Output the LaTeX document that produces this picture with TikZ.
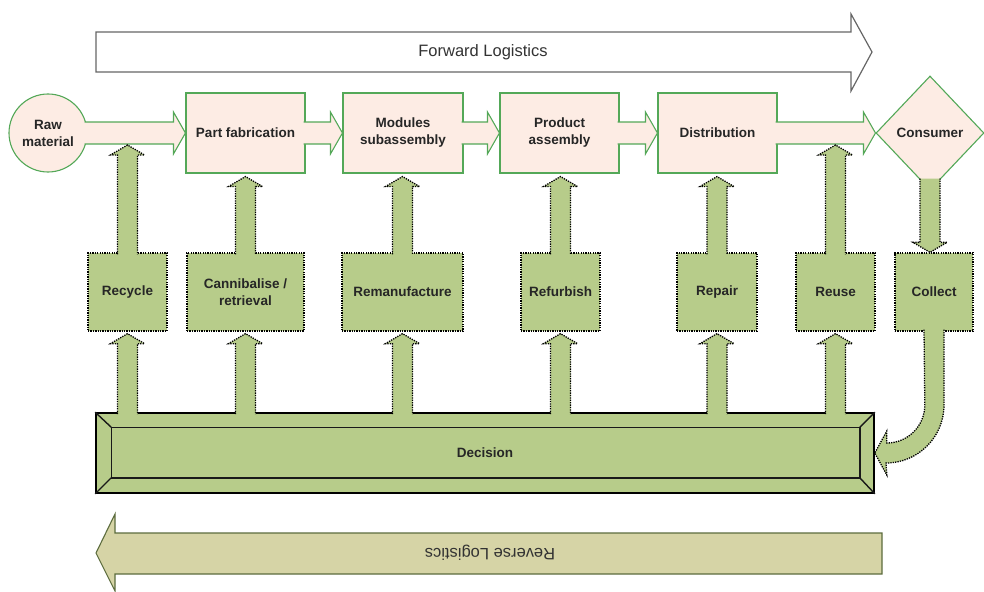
\documentclass[tikz,border=0pt]{standalone}
\usepackage{fontspec}
\setsansfont{Liberation Sans}
\usetikzlibrary{calc, shapes.geometric}

% horizontal block arrow (forward flow), from #1 to the tip #2
\newcommand{\hblock}[2]{%
  \filldraw[pinkarrow] let \p1=(#1), \p2=(#2) in
    (\x1,\y1+11pt) -- (\x2-12pt,\y1+11pt) -- (\x2-12pt,\y1+21pt) -- (\x2,\y1)
    -- (\x2-12pt,\y1-21pt) -- (\x2-12pt,\y1-11pt) -- (\x1,\y1-11pt);
}
% vertical block arrow (return flow), from #1 to the tip #2, up or down
\newcommand{\vblock}[2]{%
  \filldraw[greenarrow] let \p1=(#1), \p2=(#2), \n1={sign(\y2-\y1)} in
    (\x1-10pt,\y1) -- (\x1-10pt,\y2-\n1*10pt) -- (\x1-17pt,\y2-\n1*10pt) -- (\x1,\y2)
    -- (\x1+17pt,\y2-\n1*10pt) -- (\x1+10pt,\y2-\n1*10pt) -- (\x1+10pt,\y1);
}

\begin{document}
\begin{tikzpicture}[
    x=1pt, y=-1pt,
    font=\sffamily\bfseries\fontsize{13.5}{17}\selectfont,
    flowbox/.style={draw=flowG, line width=1.1pt, fill=pinkF, minimum width=119pt, minimum height=80pt, inner sep=2pt, align=center, text=black!85},
    retbox/.style={draw=black, dash pattern=on 1.3pt off 1.1pt, line width=1.3pt, fill=boxG, minimum height=78pt, inner sep=2pt, align=center, text=black!85},
    pinkarrow/.style={draw=flowG, line width=1.1pt, fill=pinkF},
    greenarrow/.style={draw=black, dash pattern=on 1.3pt off 1.1pt, line width=1.3pt, fill=boxG},
    fwdarrow/.style={draw=black!60, line width=1.2pt, fill=white},
    revarrow/.style={draw=revD, line width=1.1pt, fill=revF},
    bevel/.style={draw=black!90, line width=1.4pt},
    biglabel/.style={font=\sffamily\fontsize{16.5}{19}\selectfont, text=black!80},
]

\definecolor{flowG}{RGB}{84,168,88}
\definecolor{pinkF}{RGB}{253,236,228}
\definecolor{boxG}{RGB}{183,204,138}
\definecolor{revF}{RGB}{214,212,166}
\definecolor{revD}{RGB}{92,108,62}

\useasboundingbox (0,0) rectangle (984,591);

% ===== Forward Logistics banner =====
\draw[fwdarrow] (96,32) -- (851,32) -- (851,14) -- (872,52) -- (851,91) -- (851,72) -- (96,72) -- cycle;
\node[biglabel] (fwdlabel) at (483,52) {Forward Logistics};

% ===== forward chain =====
\node[flowbox, circle, minimum size=78pt, inner sep=0pt] (raw) at (48,133) {Raw\\material};
\node[flowbox] (partfab) at (245.5,133) {Part fabrication};
\node[flowbox, minimum width=120pt] (modules) at (403,133) {Modules\\subassembly};
\node[flowbox] (product) at (559.5,133) {Product\\assembly};
\node[flowbox] (distrib) at (717.5,133) {Distribution};
\node[flowbox, diamond, minimum width=108pt, minimum height=114pt, inner sep=0pt] (consumer) at (930,133) {Consumer};

\hblock{$(raw.east)+(-3,0)$}{partfab.west}
\hblock{$(partfab.east)+(-2,0)$}{modules.west}
\hblock{$(modules.east)+(-2,0)$}{product.west}
\hblock{$(product.east)+(-2,0)$}{distrib.west}
\hblock{$(distrib.east)+(-2,0)$}{consumer.west}

% ===== reverse options =====
\node[retbox, minimum width=79pt] (recycle) at (127.5,292) {Recycle};
\node[retbox, minimum width=117pt] (cannib) at (245.5,292) {Cannibalise /\\retrieval};
\node[retbox, minimum width=121pt] (reman) at (402.5,292) {Remanufacture};
\node[retbox, minimum width=79pt] (refurb) at (560.5,292) {Refurbish};
\node[retbox, minimum width=80pt] (repair) at (717,292) {Repair};
\node[retbox, minimum width=79pt] (reuse) at (835.5,292) {Reuse};
\node[retbox, minimum width=78pt] (collect) at (934,292) {Collect};

% tips that land on the flow arrows
\coordinate (recycleTip) at (127.5,145);
\coordinate (reuseTip) at (835.5,145);

% ===== Decision =====
\node[draw=black, line width=1.6pt, fill=boxG, minimum width=778pt, minimum height=80pt, text=black!85] (decision) at (485,453) {Decision};
\draw[bevel] ($(decision.north west)+(16,15)$) rectangle ($(decision.south east)+(-15,-16)$);
\draw[bevel] (decision.north west) -- ++(16,15);
\draw[bevel] (decision.south west) -- ++(16,-16);
\draw[bevel] (decision.north east) -- ++(-15,15);
\draw[bevel] (decision.south east) -- ++(-15,-16);

% up into the forward chain
\vblock{$(recycle.north)+(0,2)$}{recycleTip}
\vblock{$(cannib.north)+(0,2)$}{$(partfab.south)+(0,3)$}
\vblock{$(reman.north)+(0,2)$}{$(modules.south)+(0,3)$}
\vblock{$(refurb.north)+(0,2)$}{$(product.south)+(0,3)$}
\vblock{$(repair.north)+(0,2)$}{$(distrib.south)+(0,3)$}
\vblock{$(reuse.north)+(0,2)$}{reuseTip}

% from decision up to each option
\foreach \opt in {recycle, cannib, reman, refurb, repair, reuse} {
  \vblock{$(\opt.south |- decision.north)+(0,2)$}{$(\opt.south)+(0,2)$}
}

% consumer -> collect -> decision
\vblock{$(consumer.south)+(0,-12)$}{collect.north}
\filldraw[greenarrow] ($(collect.south)+(10,-2)$) -- ($(collect.south |- decision.east)+(10,-48)$)
  arc[start angle=0, end angle=90, radius=58] -- ($(decision.east)+(12,22)$) -- (decision.east)
  -- ($(decision.east)+(12,-22)$) -- ($(decision.east)+(12,-10)$)
  arc[start angle=90, end angle=0, radius=38] -- ($(collect.south)+(-10,-2)$);

% ===== Reverse Logistics banner =====
\draw[revarrow] (882,533) -- (115,533) -- (115,514) -- (96,553) -- (115,591) -- (115,574) -- (882,574) -- cycle;
\node[biglabel, rotate=180] (revlabel) at (490,553) {Reverse Logistics};

\end{tikzpicture}
\end{document}
